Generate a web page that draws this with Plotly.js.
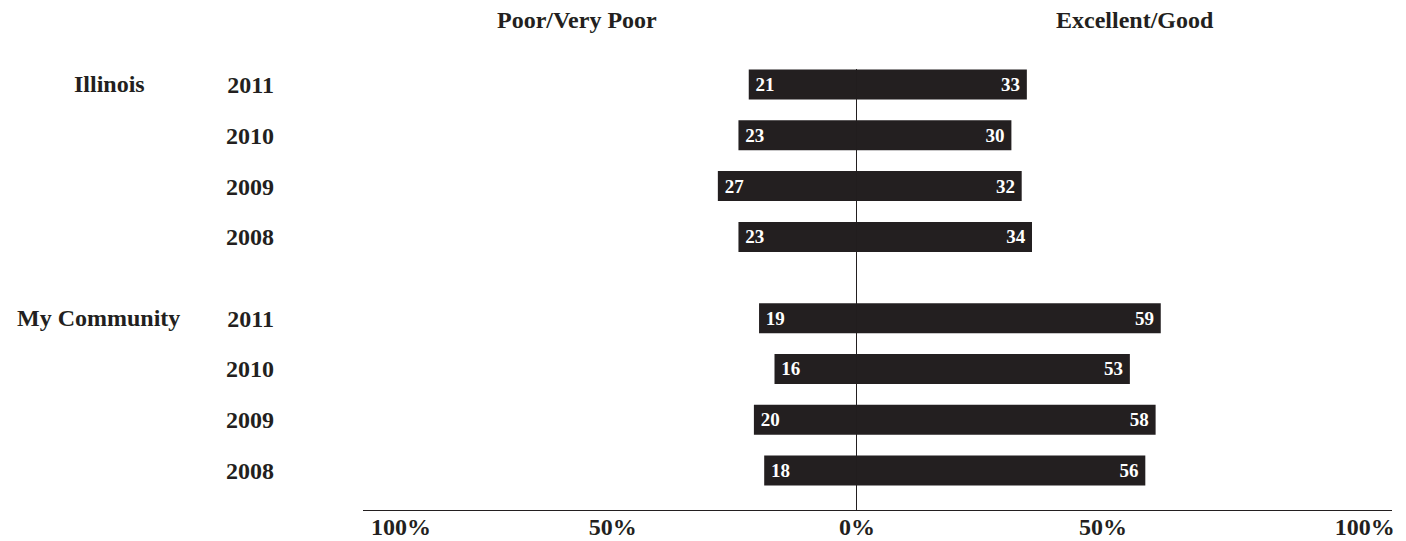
<!DOCTYPE html>
<html>
<head>
<meta charset="utf-8">
<script src="https://cdn.plot.ly/plotly-3.0.1.min.js"></script>
<style>html,body{margin:0;padding:0;background:#fff;}#chart{width:1406px;height:541px;}</style>
</head>
<body>
<div id="chart"></div>
<script>
// ---- data ----
const groups = ['Illinois', 'My Community'];
const years = ['2011', '2010', '2009', '2008'];
const illinoisPoor = [21, 23, 27, 23];
const illinoisGood = [33, 30, 32, 34];
const communityPoor = [19, 16, 20, 18];
const communityGood = [59, 53, 58, 56];
const headers = ['Poor/Very Poor', 'Excellent/Good'];
const xTickText = ['100%', '50%', '0%', '50%', '100%'];

// ---- build ----
const ink = '#231f20';
const serif = 'Liberation Serif, Times New Roman, serif';
const groupGap = 4.6;
const yPos = [];
const yText = [];
const poorVals = [];
const goodVals = [];
[[illinoisPoor, illinoisGood], [communityPoor, communityGood]].forEach((g, gi) => {
  years.forEach((yr, i) => {
    yPos.push(gi * groupGap + i);
    yText.push(yr);
    poorVals.push(g[0][i]);
    goodVals.push(g[1][i]);
  });
});

const barCommon = {
  type: 'bar', orientation: 'h', y: yPos, width: 0.59,
  marker: {color: ink, line: {width: 0}},
  textposition: 'inside', insidetextanchor: 'end',
  textfont: {family: serif, size: 19, color: '#ffffff', weight: 'bold'},
  hoverinfo: 'skip', cliponaxis: false
};
const traces = [
  Object.assign({}, barCommon, {x: poorVals.map(v => -v), text: poorVals.map(v => '\u2009' + v), name: headers[0]}),
  Object.assign({}, barCommon, {x: goodVals, text: goodVals.map(v => v + '\u2009'), name: headers[1]})
];

const layout = {
  width: 1406, height: 541,
  margin: {l: 363, r: 14, t: 69, b: 31},
  paper_bgcolor: '#ffffff', plot_bgcolor: '#ffffff',
  showlegend: false, barmode: 'relative',
  font: {family: serif, color: ink, size: 24, weight: 'bold'},
  xaxis: {
    range: [-95.9, 103.9], fixedrange: true,
    tickmode: 'array', tickvals: [-88.5, -47.4, 0, 47.8, 98.6], ticktext: xTickText,
    ticks: '', showgrid: false,
    zeroline: true, zerolinecolor: ink, zerolinewidth: 1,
    showline: true, linecolor: ink, linewidth: 1,
    ticklabelstandoff: -5,
    tickfont: {family: serif, size: 24, color: ink, weight: 'bold'}
  },
  yaxis: {
    range: [8.376, -0.305], fixedrange: true,
    tickmode: 'array', tickvals: yPos, ticktext: yText,
    ticks: '', showgrid: false, zeroline: false, showline: false,
    ticklabelstandoff: 88,
    tickfont: {family: serif, size: 24, color: ink, weight: 'bold'}
  },
  annotations: [
    {text: groups[0], xref: 'paper', yref: 'y', x: -0.2463, y: 0, xanchor: 'center', yanchor: 'middle', showarrow: false,
     font: {family: serif, size: 24, color: ink, weight: 'bold'}},
    {text: groups[1], xref: 'paper', yref: 'y', x: -0.257, y: groupGap, xanchor: 'center', yanchor: 'middle', showarrow: false,
     font: {family: serif, size: 24, color: ink, weight: 'bold'}},
    {text: headers[0], xref: 'x', yref: 'paper', x: -54.4, y: 1.11, xanchor: 'center', yanchor: 'middle', showarrow: false,
     font: {family: serif, size: 24, color: ink, weight: 'bold'}},
    {text: headers[1], xref: 'x', yref: 'paper', x: 54, y: 1.11, xanchor: 'center', yanchor: 'middle', showarrow: false,
     font: {family: serif, size: 24, color: ink, weight: 'bold'}}
  ]
};

Plotly.newPlot('chart', traces, layout, {staticPlot: true, displayModeBar: false});
</script>
</body>
</html>
